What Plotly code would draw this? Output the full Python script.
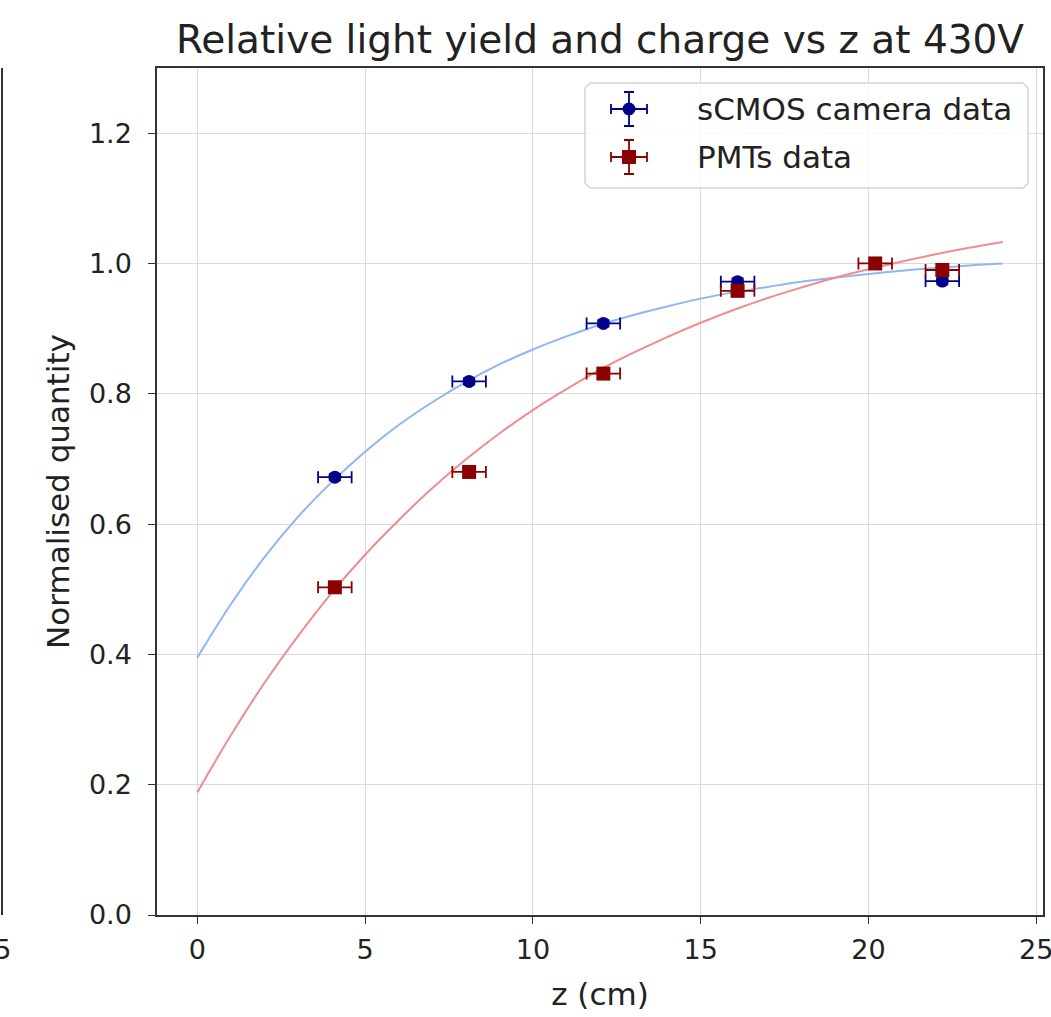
import plotly.graph_objects as go

# ---- data ----
z_data = [4.1, 8.1, 12.1, 16.1, 22.2]
scmos_vals = [0.672, 0.819, 0.908, 0.972, 0.973]
scmos_zerr = [0.5, 0.5, 0.5, 0.5, 0.5]
scmos_yerr = [0.005, 0.005, 0.005, 0.005, 0.005]

z_pmt = [4.1, 8.1, 12.1, 16.1, 20.2, 22.2]
pmt_vals = [0.503, 0.680, 0.831, 0.958, 1.000, 0.990]
pmt_zerr = [0.5, 0.5, 0.5, 0.5, 0.5, 0.5]
pmt_yerr = [0.005, 0.005, 0.005, 0.005, 0.005, 0.005]

# fitted curves (every 1 cm)
z_fit = list(range(0, 25))
scmos_fit = [0.395, 0.477, 0.549, 0.611, 0.664, 0.711, 0.752, 0.787, 0.818, 0.845, 0.868, 0.888,
             0.906, 0.921, 0.934, 0.946, 0.956, 0.964, 0.972, 0.978, 0.984, 0.989, 0.993, 0.997, 1.000]
pmt_fit = [0.188, 0.276, 0.356, 0.428, 0.494, 0.553, 0.606, 0.655, 0.699, 0.739, 0.775, 0.807,
           0.837, 0.863, 0.887, 0.909, 0.929, 0.947, 0.963, 0.978, 0.991, 1.003, 1.014, 1.024, 1.033]

x_ticks = [0, 5, 10, 15, 20, 25]
y_ticks = [0.0, 0.2, 0.4, 0.6, 0.8, 1.0, 1.2]

legend_names = ["sCMOS camera data", "PMTs data"]

FONT = "DejaVu Sans"
TXT = "#222222"
BLUE = "#00008b"
RED = "#8b0000"

# page geometry (pixels)
W, H = 1051, 1017
L, R, T, B = 157, 1043, 68, 915


def px_x(p):
    return (p - L) / (R - L)


fig = go.Figure()

fig.add_trace(go.Scatter(x=z_fit, y=scmos_fit, mode="lines", line=dict(color="#8fb6f2", width=2, shape="spline"),
                         showlegend=False, hoverinfo="skip"))
fig.add_trace(go.Scatter(x=z_fit, y=pmt_fit, mode="lines", line=dict(color="#f08c8c", width=2, shape="spline"),
                         showlegend=False, hoverinfo="skip"))

fig.add_trace(go.Scatter(
    x=z_data, y=scmos_vals, mode="markers", name=legend_names[0], showlegend=False,
    marker=dict(symbol="circle", size=13, color=BLUE),
    error_x=dict(type="data", array=scmos_zerr, color=BLUE, thickness=1.8, width=6),
    error_y=dict(type="data", array=scmos_yerr, color=BLUE, thickness=1.8, width=6),
))
fig.add_trace(go.Scatter(
    x=z_pmt, y=pmt_vals, mode="markers", name=legend_names[1], showlegend=False,
    marker=dict(symbol="square", size=14, color=RED),
    error_x=dict(type="data", array=pmt_zerr, color=RED, thickness=1.8, width=6),
    error_y=dict(type="data", array=pmt_yerr, color=RED, thickness=1.8, width=6),
))

# ---- hand-made legend on an overlay axis in pixel units ----
bx0, bx1, by0, by1, rr = 585, 1028, 83, 188, 5
box_x = [bx0 + rr, bx1 - rr, bx1, bx1, bx1 - rr, bx0 + rr, bx0, bx0, bx0 + rr]
box_y = [by0, by0, by0 + rr, by1 - rr, by1, by1, by1 - rr, by0 + rr, by0]
fig.add_trace(go.Scatter(x=box_x, y=box_y, xaxis="x2", yaxis="y2", mode="lines", fill="toself",
                         fillcolor="rgba(255,255,255,0.82)", line=dict(color="#d4d4d4", width=1.5),
                         showlegend=False, hoverinfo="skip"))
icon_x = 629
rows_y = [109, 157]
for name, yy, col, sym, sz in zip(legend_names, rows_y, [BLUE, RED], ["circle", "square"], [13, 14]):
    fig.add_trace(go.Scatter(x=[icon_x], y=[yy], xaxis="x2", yaxis="y2", mode="markers",
                             marker=dict(symbol=sym, size=sz, color=col),
                             error_x=dict(type="constant", value=18, color=col, thickness=1.8, width=5),
                             error_y=dict(type="constant", value=17, color=col, thickness=1.8, width=5),
                             showlegend=False, hoverinfo="skip"))

axis_common = dict(
    showline=True, linecolor="#333333", linewidth=1.5, mirror=True,
    showgrid=True, gridcolor="#dadada", gridwidth=1.2,
    ticks="outside", ticklen=7, tickwidth=1.3, tickcolor="#333333",
    zeroline=False, tickfont=dict(family=FONT, size=27, color=TXT), automargin=False,
    ticklabeloverflow="allow",
)

fig.update_xaxes(range=[-1.2, 25.2], tickvals=x_ticks, ticktext=[str(v) for v in x_ticks],
                 ticklabelstandoff=3,
                 title=dict(text="z (cm)", font=dict(family=FONT, size=31, color=TXT), standoff=19),
                 **axis_common)
fig.update_yaxes(range=[0, 1.3], tickvals=y_ticks, ticktext=[f"{v:.1f}" for v in y_ticks],
                 ticklabelstandoff=11,
                 title=dict(text="Normalised quantity", font=dict(family=FONT, size=31, color=TXT), standoff=10),
                 **axis_common)

annotations = [dict(text=name, xref="paper", yref="paper", x=px_x(695), y=(B - yy) / (B - T),
                    xanchor="left", yanchor="middle",
                    showarrow=False, font=dict(family=FONT, size=31, color=TXT))
               for name, yy in zip(legend_names, rows_y)]
# edge of the neighbouring panel (cropped in the reference)
annotations.append(dict(text="25", xref="paper", yref="paper", x=px_x(-6), y=0, yshift=-34,
                        xanchor="center", yanchor="middle", showarrow=False,
                        font=dict(family=FONT, size=27, color=TXT)))

fig.update_layout(
    width=W, height=H,
    margin=dict(l=L, r=W - R, t=T, b=H - B),
    paper_bgcolor="white", plot_bgcolor="white",
    font=dict(family=FONT, color=TXT),
    xaxis2=dict(overlaying="x", anchor="y2", range=[L, R], visible=False, fixedrange=True),
    yaxis2=dict(overlaying="y", anchor="x2", range=[B, T], visible=False, fixedrange=True),
    title=dict(text="Relative light yield and charge vs z at 430V", x=0.5, xref="paper", xanchor="center",
               y=1, yref="paper", yanchor="bottom", pad=dict(b=15),
               font=dict(family=FONT, size=39, color=TXT)),
    shapes=[dict(type="line", xref="paper", yref="paper", x0=px_x(2), x1=px_x(2), y0=0, y1=1,
                 line=dict(color="#333333", width=2))],
    annotations=annotations,
)

fig.write_html("out.html", config={"displayModeBar": False},
               post_script="document.body.style.margin='0';")
